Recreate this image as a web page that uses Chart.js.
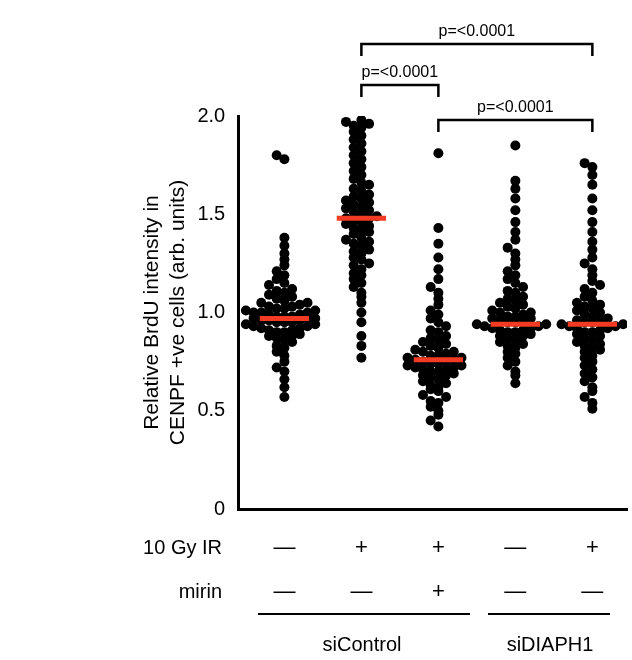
<!DOCTYPE html>
<html>
<head>
<meta charset="utf-8">
<script src="https://cdn.jsdelivr.net/npm/chart.js@4"></script>
<style>
  html, body { margin: 0; padding: 0; background: #fff; }
  #wrap { width: 632px; height: 660px; }
</style>
</head>
<body>
<div id="wrap"><canvas id="c" width="632" height="660"></canvas></div>
<script>
const groupPos = [1, 2, 3, 4, 5];
const medians = [0.97, 1.48, 0.76, 0.94, 0.94];
const yTicks = [0, 0.5, 1.0, 1.5, 2.0];
const irRow = ['—', '+', '+', '—', '+'];
const mirinRow = ['—', '—', '+', '—', '—'];

const g1 = [0.57,0.62,0.66,0.7,0.72,0.75,0.78,0.8,0.82,0.83,0.85,0.86,0.87,0.88,0.88,0.89,0.9,0.9,0.91,0.91,0.92,0.92,0.93,0.93,0.94,0.94,0.95,0.95,0.95,0.96,0.96,0.96,0.97,0.97,0.97,0.98,0.98,0.98,0.99,0.99,1.0,1.0,1.0,1.01,1.01,1.02,1.02,1.03,1.03,1.04,1.05,1.05,1.06,1.07,1.08,1.09,1.1,1.11,1.12,1.14,1.15,1.17,1.19,1.21,1.24,1.27,1.3,1.34,1.38,1.78,1.8];
const g2 = [0.77,0.83,0.88,0.95,1.0,1.05,1.08,1.1,1.13,1.15,1.17,1.19,1.2,1.22,1.24,1.25,1.27,1.28,1.3,1.31,1.32,1.34,1.35,1.36,1.37,1.38,1.4,1.41,1.42,1.43,1.44,1.45,1.46,1.47,1.48,1.48,1.49,1.5,1.51,1.52,1.53,1.54,1.55,1.56,1.57,1.58,1.59,1.6,1.62,1.63,1.65,1.66,1.68,1.7,1.72,1.74,1.76,1.78,1.8,1.82,1.84,1.86,1.88,1.9,1.92,1.94,1.95,1.96,1.97,1.98];
const g3 = [0.42,0.45,0.48,0.5,0.52,0.54,0.55,0.57,0.58,0.6,0.61,0.62,0.63,0.64,0.65,0.66,0.67,0.68,0.68,0.69,0.7,0.7,0.71,0.71,0.72,0.72,0.73,0.73,0.74,0.74,0.75,0.75,0.76,0.76,0.77,0.77,0.78,0.78,0.79,0.8,0.8,0.81,0.82,0.83,0.84,0.85,0.86,0.87,0.88,0.9,0.91,0.93,0.95,0.97,0.99,1.01,1.04,1.07,1.1,1.13,1.17,1.22,1.28,1.35,1.43,1.81];
const g4 = [0.64,0.68,0.7,0.73,0.75,0.77,0.79,0.8,0.82,0.83,0.84,0.85,0.86,0.87,0.88,0.88,0.89,0.9,0.9,0.91,0.91,0.92,0.92,0.93,0.93,0.94,0.94,0.95,0.95,0.96,0.96,0.97,0.97,0.98,0.98,0.99,1.0,1.0,1.01,1.02,1.03,1.04,1.05,1.06,1.07,1.08,1.1,1.11,1.13,1.15,1.17,1.19,1.21,1.24,1.27,1.3,1.33,1.37,1.41,1.46,1.52,1.58,1.63,1.67,1.85];
const g5 = [0.51,0.54,0.57,0.6,0.62,0.65,0.67,0.69,0.71,0.73,0.75,0.77,0.78,0.8,0.81,0.82,0.83,0.84,0.85,0.86,0.87,0.88,0.89,0.9,0.9,0.91,0.92,0.92,0.93,0.93,0.94,0.94,0.95,0.95,0.96,0.96,0.97,0.98,0.99,1.0,1.01,1.02,1.03,1.04,1.05,1.06,1.08,1.1,1.12,1.14,1.16,1.19,1.22,1.25,1.28,1.32,1.36,1.41,1.46,1.52,1.58,1.65,1.7,1.74,1.76];
const groups = [g1, g2, g3, g4, g5];

// simple beeswarm: stack points in the same value bin side by side
function swarm(vals, cx) {
  const bins = {};
  return vals.map(v => {
    const b = Math.round(v / 0.04);
    const k = bins[b] = (bins[b] || 0) + 1;
    const step = Math.floor(k / 2) * 0.1;
    return { x: cx + (k % 2 ? 1 : -1) * step, y: v };
  });
}

const datasets = groups.map((g, i) => ({
  type: 'scatter',
  order: 1,
  data: swarm(g, groupPos[i]),
  backgroundColor: '#000',
  borderWidth: 0,
  pointRadius: 5
}));
medians.forEach((m, i) => datasets.push({
  type: 'line',
  order: 0,
  data: [{ x: groupPos[i] - 0.32, y: m }, { x: groupPos[i] + 0.32, y: m }],
  borderColor: '#f23b22',
  borderWidth: 5,
  pointRadius: 0
}));

const extras = {
  id: 'extras',
  afterDraw(chart) {
    const ctx = chart.ctx, xs = chart.scales.x;
    ctx.save();
    ctx.fillStyle = '#000';
    ctx.strokeStyle = '#000';
    ctx.font = '20px Arial, "Liberation Sans"';
    ctx.textBaseline = 'middle';
    ctx.textAlign = 'right';
    ctx.fillText('10 Gy IR', 222, 548);
    ctx.fillText('mirin', 222, 592);
    ctx.textAlign = 'center';
    ctx.font = '22px Arial, "Liberation Sans"';
    groupPos.forEach((p, i) => {
      const px = xs.getPixelForValue(p);
      ctx.fillText(irRow[i], px, 548);
      ctx.fillText(mirinRow[i], px, 592);
    });
    ctx.lineWidth = 2;
    ctx.beginPath();
    ctx.moveTo(258, 614); ctx.lineTo(470, 614);
    ctx.moveTo(488, 614); ctx.lineTo(610, 614);
    ctx.stroke();
    ctx.font = '20px Arial, "Liberation Sans"';
    ctx.fillText('siControl', 362, 645);
    ctx.fillText('siDIAPH1', 550, 645);
    // significance brackets
    const bracket = (a, b, y, label) => {
      const x1 = xs.getPixelForValue(groupPos[a]), x2 = xs.getPixelForValue(groupPos[b]);
      ctx.lineWidth = 2.5;
      ctx.beginPath();
      ctx.moveTo(x1, y + 12); ctx.lineTo(x1, y); ctx.lineTo(x2, y); ctx.lineTo(x2, y + 12);
      ctx.stroke();
      ctx.font = '16px Arial, "Liberation Sans"';
      ctx.textBaseline = 'bottom';
      ctx.fillText(label, (x1 + x2) / 2, y - 4);
    };
    bracket(1, 4, 44, 'p=<0.0001');
    bracket(1, 2, 85, 'p=<0.0001');
    bracket(2, 4, 120, 'p=<0.0001');
    ctx.restore();
  }
};

new Chart(document.getElementById('c'), {
  data: { datasets },
  plugins: [extras],
  options: {
    responsive: false,
    animation: false,
    layout: { padding: { top: 116, bottom: 151, left: 136, right: 4 } },
    plugins: { legend: { display: false }, tooltip: { enabled: false } },
    scales: {
      x: {
        type: 'linear', min: 0.4, max: 5.45,
        grid: { display: false, drawTicks: false },
        border: { color: '#000', width: 3 },
        ticks: { display: false }
      },
      y: {
        min: 0, max: 2,
        afterBuildTicks: s => { s.ticks = yTicks.map(v => ({ value: v })); },
        grid: { display: false, drawTicks: true, tickLength: 10, tickWidth: 3, tickColor: '#000' },
        border: { color: '#000', width: 3 },
        ticks: {
          color: '#000', font: { size: 20, family: 'Arial, "Liberation Sans"' },
          callback: v => v === 0 ? '0' : v.toFixed(1)
        },
        title: {
          display: true, color: '#000',
          text: ['Relative BrdU intensity in', 'CENPF +ve cells (arb. units)'],
          font: { size: 21, family: 'Arial, "Liberation Sans"' }, padding: 4
        }
      }
    }
  }
});
</script>
</body>
</html>
